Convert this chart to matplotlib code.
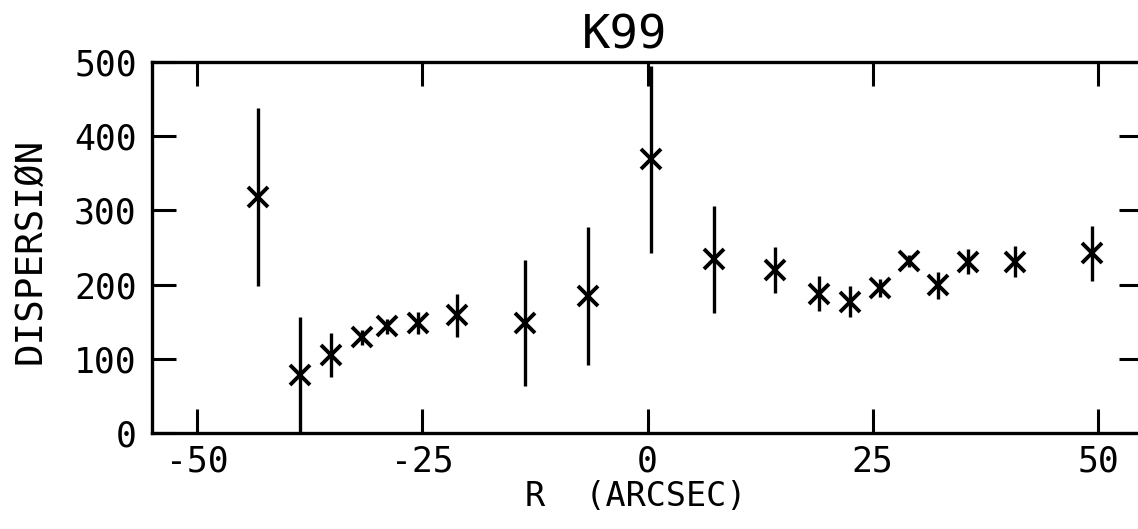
import matplotlib
matplotlib.use("Agg")
import matplotlib.pyplot as plt

# valores
raio = [-43.2, -38.6, -35.1, -31.7, -28.9, -25.5, -21.1, -13.6, -6.6, 0.4,
        7.4, 14.2, 19.0, 22.5, 25.8, 29.0, 32.2, 35.6, 40.8, 49.3]
dispersao = [318, 78, 105, 129, 144, 148, 159, 148, 185, 369,
             234, 220, 188, 177, 195, 232, 199, 231, 231, 242]
erro = [120, 78, 30, 10, 10, 15, 29, 85, 93, 126,
        72, 31, 24, 21, 12, 8, 18, 17, 21, 37]

xticks = [-50, -25, 0, 25, 50]
yticks = [0, 100, 200, 300, 400, 500]

plt.rcParams['font.family'] = ['DejaVu Sans Mono']

fig = plt.figure(figsize=(11.38, 5.29), dpi=100)
ax = fig.add_axes([152 / 1138, 96 / 529, 991 / 1138, 371 / 529])

ax.errorbar(raio, dispersao, yerr=erro, fmt='x', color='black',
            ms=14, mew=2.8, elinewidth=2.4, capsize=0)

ax.set_xlim(-55, 55)
ax.set_ylim(0, 500)
ax.set_xticks(xticks)
ax.set_yticks(yticks)
ax.set_xticklabels([str(v) for v in xticks])
ax.set_yticklabels([str(v) for v in yticks])

ax.tick_params(axis='both', direction='in', length=17, width=2.2,
               labelsize=25, top=True, right=True)
ax.tick_params(axis='y', pad=11)
ax.tick_params(axis='x', pad=8)
for s in ax.spines.values():
    s.set_linewidth(2.4)

ax.set_xlabel("R  (ARCSEC)", fontsize=24)
ax.xaxis.set_label_coords(0.488, -0.128)
ax.set_ylabel("DISPERSIØN", fontsize=27)
ax.yaxis.set_label_coords(-0.105, 0.49)
ax.set_title("K99", fontsize=34, x=0.477, pad=10)

fig.savefig("out.png", dpi=100)
